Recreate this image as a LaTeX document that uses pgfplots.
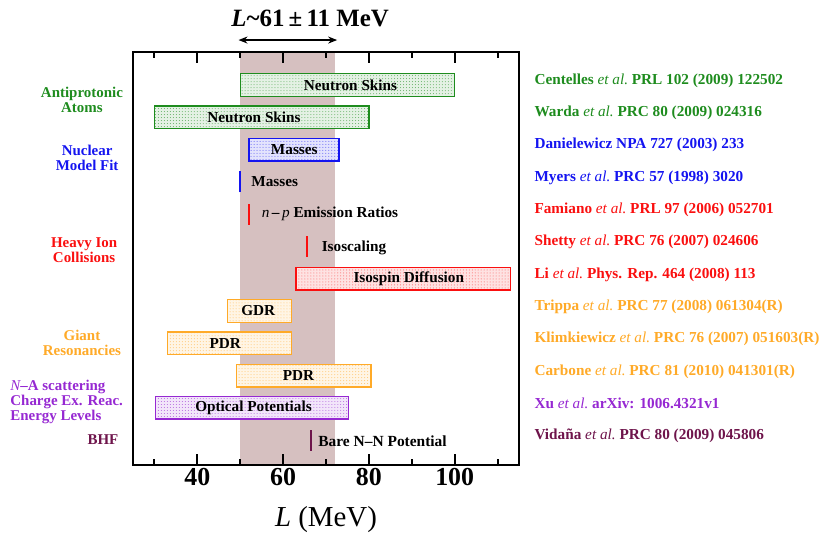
\documentclass[border=0pt]{standalone}
\usepackage{fontspec}
\setmainfont{Liberation Serif}
\usepackage{pgfplots}
\pgfplotsset{compat=1.18}
\usetikzlibrary{patterns,arrows.meta}
\definecolor{cgreen}{RGB}{30,140,30}
\definecolor{cblue}{RGB}{20,20,240}
\definecolor{cred}{RGB}{250,15,15}
\definecolor{corange}{RGB}{255,170,40}
\definecolor{cpurple}{RGB}{150,40,210}
\definecolor{cmaroon}{RGB}{110,20,75}
\definecolor{cband}{RGB}{214,192,192}
\newcommand\fs[1]{\fontsize{#1}{#1}\selectfont}
\newcommand\etal{{\mdseries\itshape et al.}}
\pgfplotsset{
  databox/.style={draw=#1, line width=1.4pt, fill=#1!12,
    postaction={pattern=dots, pattern color=#1!70}},
  dataline/.style={draw=#1, line width=2.4pt},
}
\begin{document}
\begin{tikzpicture}
\begin{axis}[
  scale only axis, width=386bp, height=413bp,
  xmin=25, xmax=115, ymin=0.23, ymax=13.02,
  axis line style={line width=2.2pt},
  xtick={40,60,80,100}, minor xtick={30,50,70,90,110},
  ytick=\empty,
  xtick pos=both, xticklabel pos=bottom,
  tick align=inside, major tick length=11bp, minor tick length=6bp,
  every tick/.style={line width=2pt, black},
  ticklabel style={font=\bfseries\fs{26}},
  /pgf/number format/assume math mode=true,
  xlabel={\textit{L} (MeV)},
  xlabel style={font=\fs{29}, at={(axis description cs:0.5,0)}, anchor=center, yshift=-55bp},
  clip=false, axis on top,
]
% band L = 61 +- 11
\addplot[draw=none, fill=cband] coordinates {(50,0.23)(72,0.23)(72,13.02)(50,13.02)} -- cycle;
% boxes
\addplot[databox=cgreen] coordinates {(50,11.65)(100,11.65)(100,12.35)(50,12.35)} -- cycle;
\addplot[databox=cgreen] coordinates {(30,10.65)(80,10.65)(80,11.35)(30,11.35)} -- cycle;
\addplot[databox=cblue] coordinates {(52,9.65)(73,9.65)(73,10.35)(52,10.35)} -- cycle;
\addplot[dataline=cblue] coordinates {(50,8.675)(50,9.325)};
\addplot[dataline=cred] coordinates {(52,7.675)(52,8.325)};
\addplot[dataline=cred] coordinates {(65.5,6.675)(65.5,7.325)};
\addplot[databox=cred] coordinates {(63,5.65)(113,5.65)(113,6.35)(63,6.35)} -- cycle;
\addplot[databox=corange] coordinates {(47,4.65)(62,4.65)(62,5.35)(47,5.35)} -- cycle;
\addplot[databox=corange] coordinates {(33,3.65)(62,3.65)(62,4.35)(33,4.35)} -- cycle;
\addplot[databox=corange] coordinates {(49.1,2.65)(80.5,2.65)(80.5,3.35)(49.1,3.35)} -- cycle;
\addplot[databox=cpurple] coordinates {(30.2,1.65)(75.2,1.65)(75.2,2.35)(30.2,2.35)} -- cycle;
\addplot[dataline=cmaroon] coordinates {(66.5,0.675)(66.5,1.325)};
% labels inside plot
\begin{scope}[every node/.style={font=\bfseries\fs{15.3}}]
\node at (axis cs:75.7,12) {Neutron Skins};
\node at (axis cs:53.2,11) {Neutron Skins};
\node at (axis cs:62.6,10) {Masses};
\node[anchor=west] at (axis cs:51.8,9) {Masses};
\node[anchor=west] at (axis cs:54.2,8) {\textit{\mdseries n}\,–\,\textit{\mdseries p} Emission Ratios};
\node[anchor=west] at (axis cs:68.2,6.95) {Isoscaling};
\node at (axis cs:89.3,6) {Isospin Diffusion};
\node at (axis cs:54.2,5) {GDR};
\node at (axis cs:46.5,4) {PDR};
\node at (axis cs:63.6,3) {PDR};
\node at (axis cs:53.1,2) {Optical Potentials};
\node[anchor=west, font=\bfseries\fs{15.5}] at (axis cs:67.4,0.97) {Bare N–N Potential};
\end{scope}
% title
\node[font=\bfseries\fs{25}] at (axis cs:66.3,14.06) {\textit{L}\textasciitilde61\,±\,11 MeV};
\addplot[{Stealth[length=9bp,width=7bp]}-{Stealth[length=9bp,width=7bp]}, line width=1.6pt] coordinates {(49.6,13.39)(72.6,13.39)};
% left group labels
\begin{scope}[every node/.style={font=\bfseries\fs{15}, align=center}]
\node[text=cgreen] at (axis cs:13.1,11.53) {Antiprotonic\\Atoms};
\node[text=cblue] at (axis cs:14.3,9.74) {Nuclear\\Model Fit};
\node[text=cred] at (axis cs:13.6,6.89) {Heavy Ion\\Collisions};
\node[text=corange] at (axis cs:13.1,4.01) {Giant\\Resonancies};
\node[text=cpurple, anchor=west, align=left] at (axis cs:-4.4,2.18) {{\mdseries\itshape N}–A scattering\\Charge Ex. Reac.\\Energy Levels};
\node[text=cmaroon] at (axis cs:18.0,1.03) {BHF};
\end{scope}
% right references
\begin{scope}[every node/.style={font=\bfseries\fs{15.3}, anchor=west}]
\node[text=cgreen] at (axis cs:117.8,12.13) {Centelles \etal\ PRL 102 (2009) 122502};
\node[text=cgreen] at (axis cs:117.8,11.13) {Warda \etal\ PRC 80 (2009) 024316};
\node[text=cblue] at (axis cs:117.8,10.13) {Danielewicz NPA 727 (2003) 233};
\node[text=cblue] at (axis cs:117.8,9.13) {Myers \etal\ PRC 57 (1998) 3020};
\node[text=cred] at (axis cs:117.8,8.13) {Famiano \etal\ PRL 97 (2006) 052701};
\node[text=cred] at (axis cs:117.8,7.13) {Shetty \etal\ PRC 76 (2007) 024606};
\node[text=cred] at (axis cs:117.8,6.13) {Li \etal\ Phys. Rep. 464 (2008) 113};
\node[text=corange] at (axis cs:117.8,5.13) {Trippa \etal\ PRC 77 (2008) 061304(R)};
\node[text=corange] at (axis cs:117.8,4.13) {Klimkiewicz \etal\ PRC 76 (2007) 051603(R)};
\node[text=corange] at (axis cs:117.8,3.13) {Carbone \etal\ PRC 81 (2010) 041301(R)};
\node[text=cpurple] at (axis cs:117.8,2.13) {Xu \etal\ arXiv: 1006.4321v1};
\node[text=cmaroon] at (axis cs:117.8,1.13) {Vidaña \etal\ PRC 80 (2009) 045806};
\end{scope}
\coordinate (bbll) at (axis cs:-6.01,-1.876);
\coordinate (bbur) at (axis cs:185.64,14.63);
\end{axis}
\pgfresetboundingbox
\path[use as bounding box] (bbll) rectangle (bbur);
\end{tikzpicture}
\end{document}
